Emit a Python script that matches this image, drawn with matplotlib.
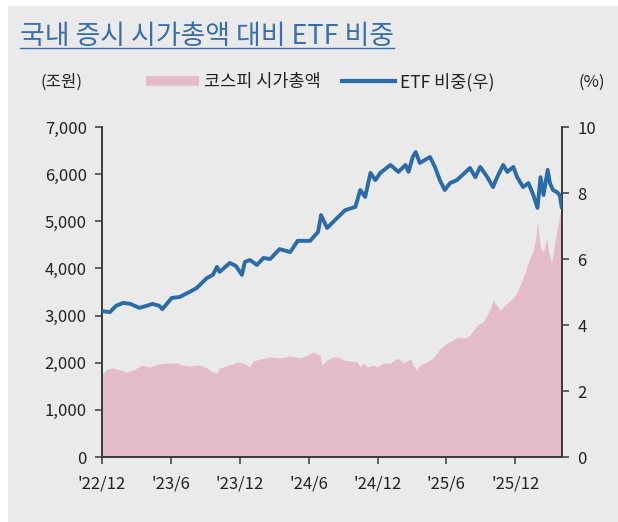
import matplotlib
matplotlib.use("Agg")
import matplotlib.pyplot as plt
import pandas as pd
from matplotlib.lines import Line2D
from matplotlib.patches import Rectangle

plt.rcParams['font.family'] = ['Noto Sans CJK KR', 'DejaVu Sans']

# ETF 비중(우), %
etf_dates = [
    "2022-12-01", "2022-12-22", "2023-01-07", "2023-01-26", "2023-02-14", "2023-03-10",
    "2023-03-29", "2023-04-14", "2023-05-02", "2023-05-10", "2023-06-04", "2023-06-25",
    "2023-07-21", "2023-08-09", "2023-09-05", "2023-09-21", "2023-10-02", "2023-10-09",
    "2023-11-05", "2023-11-21", "2023-12-07", "2023-12-15", "2023-12-28", "2024-01-16",
    "2024-02-02", "2024-02-20", "2024-03-16", "2024-04-13", "2024-05-03", "2024-06-05",
    "2024-06-26", "2024-07-04", "2024-07-20", "2024-08-10", "2024-09-06", "2024-10-03",
    "2024-10-16", "2024-10-29", "2024-11-12", "2024-11-25", "2024-12-08", "2025-01-04",
    "2025-01-25", "2025-02-13", "2025-02-21", "2025-03-04", "2025-03-12", "2025-03-23",
    "2025-04-05", "2025-04-19", "2025-05-02", "2025-05-15", "2025-05-28", "2025-06-11",
    "2025-06-29", "2025-07-20", "2025-08-03", "2025-08-17", "2025-08-30", "2025-09-18",
    "2025-10-03", "2025-10-14", "2025-10-30", "2025-11-10", "2025-11-26", "2025-12-06",
    "2025-12-22", "2026-01-05", "2026-01-18", "2026-01-29", "2026-02-06", "2026-02-14",
    "2026-02-25", "2026-03-03", "2026-03-11", "2026-03-21", "2026-03-29", "2026-04-03",
]
etf_ratio = [
    4.42, 4.39, 4.58, 4.67, 4.64, 4.52,
    4.58, 4.64, 4.58, 4.48, 4.82, 4.85,
    5.00, 5.12, 5.42, 5.52, 5.76, 5.61,
    5.88, 5.79, 5.52, 5.91, 5.97, 5.82,
    6.03, 6.00, 6.30, 6.21, 6.55, 6.55,
    6.82, 7.33, 6.94, 7.18, 7.48, 7.58,
    8.09, 7.88, 8.61, 8.39, 8.61, 8.85,
    8.64, 8.85, 8.64, 9.09, 9.24, 8.91,
    9.00, 9.09, 8.79, 8.39, 8.09, 8.30,
    8.39, 8.61, 8.76, 8.48, 8.79, 8.48,
    8.18, 8.48, 8.85, 8.64, 8.79, 8.48,
    8.18, 8.30, 7.94, 7.55, 8.48, 7.94,
    8.70, 8.30, 8.09, 8.03, 7.94, 7.58,
]

# 코스피 시가총액, 조원
kospi_dates = [
    "2022-12-01", "2022-12-14", "2022-12-30", "2023-01-18", "2023-02-06", "2023-02-22",
    "2023-03-18", "2023-04-06", "2023-05-02", "2023-05-21", "2023-06-17", "2023-07-03",
    "2023-07-21", "2023-08-17", "2023-09-05", "2023-09-21", "2023-10-02", "2023-10-09",
    "2023-11-05", "2023-11-24", "2023-12-10", "2023-12-28", "2024-01-06", "2024-01-24",
    "2024-02-20", "2024-03-16", "2024-04-13", "2024-05-09", "2024-06-05", "2024-06-13",
    "2024-07-01", "2024-07-06", "2024-07-20", "2024-08-05", "2024-08-23", "2024-09-01",
    "2024-09-19", "2024-10-08", "2024-10-16", "2024-10-24", "2024-11-04", "2024-11-20",
    "2024-11-30", "2024-12-16", "2025-01-04", "2025-01-23", "2025-02-08", "2025-02-27",
    "2025-03-04", "2025-03-15", "2025-03-23", "2025-04-11", "2025-04-27", "2025-05-15",
    "2025-06-03", "2025-06-19", "2025-07-02", "2025-07-20", "2025-08-03", "2025-08-22",
    "2025-09-07", "2025-09-26", "2025-10-03", "2025-10-14", "2025-10-22", "2025-10-30",
    "2025-11-13", "2025-11-26", "2025-12-06", "2025-12-14", "2025-12-28", "2026-01-05",
    "2026-01-16", "2026-01-24", "2026-01-29", "2026-02-06", "2026-02-14", "2026-02-22",
    "2026-02-28", "2026-03-08", "2026-03-16", "2026-03-24", "2026-04-03",
]
kospi_cap = [
    1740, 1867, 1888, 1845, 1803, 1845,
    1951, 1909, 1973, 1994, 1994, 1951,
    1930, 1951, 1888, 1803, 1782, 1888,
    1951, 2015, 1994, 1909, 2036, 2079,
    2121, 2100, 2142, 2100, 2185, 2227,
    2164, 1951, 2058, 2121, 2100, 2058,
    2036, 2015, 1909, 1994, 1909, 1951,
    1909, 1994, 1994, 2100, 1994, 2079,
    1951, 1845, 1951, 2015, 2100, 2291,
    2418, 2482, 2545, 2524, 2588, 2800,
    2863, 3139, 3330, 3203, 3118, 3182,
    3288, 3372, 3500, 3648, 3924, 4136,
    4348, 4603, 4984, 4433, 4348, 4645,
    4327, 4115, 4560, 4900, 5345,
]

xtick_dates = ["2022-12-01", "2023-06-01", "2023-12-01", "2024-06-01",
               "2024-12-01", "2025-06-01", "2025-12-01"]
xtick_labels = ["'22/12", "'23/6", "'23/12", "'24/6", "'24/12", "'25/6", "'25/12"]

bg = "#EAEAEA"
pink = "#E4BBC8"
blue = "#2B6CA8"
txt = "#222222"
spine_c = "#3A3A3A"

fig = plt.figure(figsize=(6.18, 5.22), dpi=100, facecolor="white")
fig.add_artist(Rectangle((8 / 618, 0), 1, 1 - 6 / 522, transform=fig.transFigure,
                         facecolor=bg, edgecolor="none", zorder=-10))

ax = fig.add_axes([102 / 618, 1 - 457 / 522, 460 / 618, 330 / 522])
ax.set_facecolor(bg)
ax2 = ax.twinx()

kd = pd.to_datetime(kospi_dates)
ed = pd.to_datetime(etf_dates)

ax.fill_between(kd, kospi_cap, 0, color=pink, linewidth=0, zorder=1)
ax2.plot(ed, etf_ratio, color=blue, linewidth=2.8, solid_joinstyle="round", zorder=3)

ax.set_ylim(0, 7000)
ax.set_yticks(range(0, 7001, 1000))
ax.set_yticklabels([f"{v:,}" for v in range(0, 7001, 1000)])
ax2.set_ylim(0, 10)
ax2.set_yticks(range(0, 11, 2))

ax.set_xlim(pd.Timestamp("2022-12-01"), pd.Timestamp("2026-04-04"))
ax.set_xticks(pd.to_datetime(xtick_dates))
ax.set_xticklabels(xtick_labels)

for a in (ax, ax2):
    a.spines["top"].set_visible(False)
    for s in ("left", "right", "bottom"):
        a.spines[s].set_color(spine_c)
        a.spines[s].set_linewidth(1.2)
    a.tick_params(axis="both", direction="out", length=5, width=1.1, color=spine_c,
                  labelsize=12, labelcolor=txt, pad=6)
ax.tick_params(axis="x", pad=8)

# 제목
title = fig.text(20 / 618, 1 - 37 / 522, "국내 증시 시가총액 대비 ETF 비중", fontsize=19.4,
                 color="#3A6EA8", va="center", ha="left")
fig.canvas.draw()
bb = title.get_window_extent().transformed(fig.transFigure.inverted())
fig.add_artist(Line2D([bb.x0, bb.x1], [1 - 48 / 522] * 2, transform=fig.transFigure,
                      color="#3A6EA8", linewidth=1.0))

fig.text(62 / 618, 1 - 82 / 522, "(조원)", fontsize=12, color=txt, ha="center", va="center")
fig.text(592 / 618, 1 - 82 / 522, "(%)", fontsize=12, color=txt, ha="center", va="center")

handles = [Line2D([], [], color=pink, linewidth=7, solid_capstyle="butt"),
           Line2D([], [], color=blue, linewidth=3)]
fig.legend(handles, ["코스피 시가총액", "ETF 비중(우)"], loc="center left",
           bbox_to_anchor=(146 / 618, 1 - 82 / 522), ncol=2, frameon=False,
           fontsize=12.6, handlelength=3.0, handletextpad=0.3, columnspacing=1.25,
           borderpad=0, borderaxespad=0, labelcolor=txt)

fig.savefig("out.png", dpi=100, facecolor=fig.get_facecolor())
